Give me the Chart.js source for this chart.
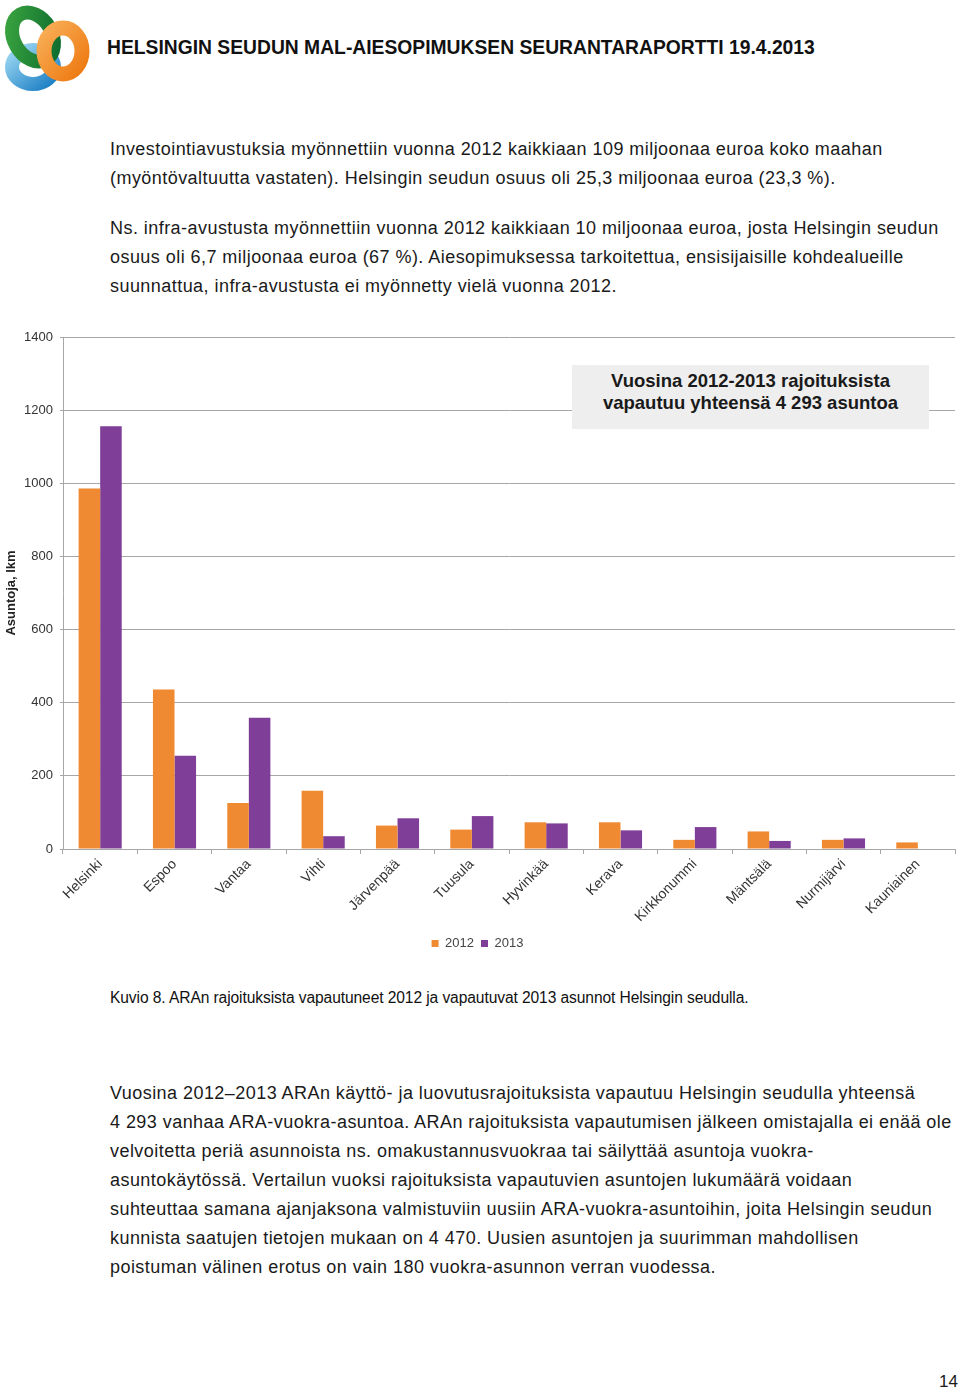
<!DOCTYPE html>
<html lang="fi">
<head>
<meta charset="utf-8">
<title>ARAn rajoituksista vapautuvat asunnot</title>
<script src="https://cdn.jsdelivr.net/npm/chart.js@4/dist/chart.umd.min.js"></script>
<style>
    body { margin: 0; background: #fff; font-family: "Liberation Sans", Arial, sans-serif; color: #1a1a1a; }
    #page { position: relative; width: 960px; height: 1390px; overflow: hidden; }
    .abs { position: absolute; white-space: nowrap; }
    .otsikko { left: 107px; top: 37px; font-size: 19.3px; font-weight: bold; color: #111; letter-spacing: 0; }
    .teksti { font-size: 18px; letter-spacing: 0.45px; line-height: 29px; }
    .kuvateksti { left: 110px; top: 989px; font-size: 15.6px; color: #111; letter-spacing: -0.1px; }
    #laatikko { left: 572px; top: 365px; width: 357px; height: 64px; background: #eeeeee;
        text-align: center; font-size: 18.5px; font-weight: bold; line-height: 22px; color: #1a1a1a;
        padding-top: 5px; box-sizing: border-box; }
    #kaavio { position: absolute; left: 0; top: 320px; width: 960px; height: 640px; }
    .sivu { left: 939px; top: 1372px; font-size: 17px; }
</style>
</head>
<body>
<div id="page">
    <!-- logo -->
    <svg class="abs" style="left:0;top:0" width="100" height="100" viewBox="0 0 100 100">
        <defs>
            <linearGradient id="vihrea" x1="0" y1="0" x2="1" y2="1">
                <stop offset="0" stop-color="#3aa43f"/>
                <stop offset="1" stop-color="#0d6b2e"/>
            </linearGradient>
            <linearGradient id="oranssi" x1="0" y1="0" x2="1" y2="1">
                <stop offset="0" stop-color="#f8ad55"/>
                <stop offset="1" stop-color="#ee7a12"/>
            </linearGradient>
            <linearGradient id="sininen" x1="0" y1="0" x2="1" y2="1">
                <stop offset="0" stop-color="#9ad6f2"/>
                <stop offset="1" stop-color="#1c7fc4"/>
            </linearGradient>
        </defs>
        <ellipse cx="33" cy="67" rx="21" ry="17" fill="none" stroke="url(#sininen)" stroke-width="14"/>
        <ellipse cx="33" cy="37" rx="19" ry="26" fill="none" stroke="url(#vihrea)" stroke-width="14" transform="rotate(-30 33 37)"/>
        <ellipse cx="63" cy="51" rx="19" ry="23" fill="none" stroke="url(#oranssi)" stroke-width="15"/>
    </svg>
    <div class="abs otsikko">HELSINGIN SEUDUN MAL-AIESOPIMUKSEN SEURANTARAPORTTI 19.4.2013</div>

    <div class="abs teksti" style="left:110px;top:135px">Investointiavustuksia myönnettiin vuonna 2012 kaikkiaan 109 miljoonaa euroa koko maahan<br>(myöntövaltuutta vastaten). Helsingin seudun osuus oli 25,3 miljoonaa euroa (23,3 %).</div>
    <div class="abs teksti" style="left:110px;top:214px">Ns. infra-avustusta myönnettiin vuonna 2012 kaikkiaan 10 miljoonaa euroa, josta Helsingin seudun<br>osuus oli 6,7 miljoonaa euroa (67 %). Aiesopimuksessa tarkoitettua, ensisijaisille kohdealueille<br>suunnattua, infra-avustusta ei myönnetty vielä vuonna 2012.</div>

    <div id="kaavio"><canvas id="myChart"></canvas></div>
    <div id="laatikko" class="abs">Vuosina 2012-2013 rajoituksista<br>vapautuu yhteensä 4 293 asuntoa</div>

    <div class="abs kuvateksti">Kuvio 8. ARAn rajoituksista vapautuneet 2012 ja vapautuvat 2013 asunnot Helsingin seudulla.</div>

    <div class="abs teksti" style="left:110px;top:1079px">Vuosina 2012–2013 ARAn käyttö- ja luovutusrajoituksista vapautuu Helsingin seudulla yhteensä<br>4 293 vanhaa ARA-vuokra-asuntoa. ARAn rajoituksista vapautumisen jälkeen omistajalla ei enää ole<br>velvoitetta periä asunnoista ns. omakustannusvuokraa tai säilyttää asuntoja vuokra-<br>asuntokäytössä. Vertailun vuoksi rajoituksista vapautuvien asuntojen lukumäärä voidaan<br>suhteuttaa samana ajanjaksona valmistuviin uusiin ARA-vuokra-asuntoihin, joita Helsingin seudun<br>kunnista saatujen tietojen mukaan on 4 470. Uusien asuntojen ja suurimman mahdollisen<br>poistuman välinen erotus on vain 180 vuokra-asunnon verran vuodessa.</div>

    <div class="abs sivu">14</div>
</div>

<script>
    // Kunnat ja vapautuvien asuntojen määrät (luettu kuvasta)
    const kunnat = ['Helsinki', 'Espoo', 'Vantaa', 'Vihti', 'Järvenpää', 'Tuusula', 'Hyvinkää', 'Kerava', 'Kirkkonummi', 'Mäntsälä', 'Nurmijärvi', 'Kauniainen'];
    const vuosi2012 = [986, 436, 126, 159, 64, 53, 73, 73, 25, 48, 25, 18];
    const vuosi2013 = [1156, 255, 359, 35, 84, 90, 70, 51, 60, 22, 29, 0];
    const sarjaNimet = ['2012', '2013'];
    const yMin = 0;
    const yMax = 1400;
    const yAskel = 200;

    const harmaa = '#a6a6a6';
    const fontti = 'Liberation Sans, Arial, sans-serif';

    var ctx = document.getElementById('myChart');
    var myChart = new Chart(ctx, {
        type: 'bar',
        data: {
            labels: kunnat,
            datasets: [{
                label: sarjaNimet[0],
                data: vuosi2012,
                backgroundColor: '#f08a32'
            }, {
                label: sarjaNimet[1],
                data: vuosi2013,
                backgroundColor: '#7f3f98'
            }]
        },
        options: {
            responsive: true,
            maintainAspectRatio: false,
            animation: false,
            layout: {
                padding: { top: 17, right: 5, left: 0, bottom: 0 }
            },
            datasets: {
                bar: {
                    categoryPercentage: 0.58,
                    barPercentage: 1.0
                }
            },
            scales: {
                x: {
                    grid: {
                        drawOnChartArea: false,
                        drawTicks: true,
                        tickLength: 5,
                        color: harmaa
                    },
                    border: { color: harmaa },
                    ticks: {
                        minRotation: 45,
                        maxRotation: 45,
                        padding: 2,
                        color: '#333',
                        font: { family: fontti, size: 14 }
                    },
                    afterFit: function (scale) { scale.height = 81; }
                },
                y: {
                    min: yMin,
                    max: yMax,
                    ticks: {
                        stepSize: yAskel,
                        padding: 7,
                        color: '#333',
                        font: { family: fontti, size: 13 },
                        callback: function (value) { return String(value); } // ei tuhaterotinta
                    },
                    grid: {
                        color: harmaa,
                        tickLength: 3
                    },
                    border: { color: harmaa },
                    title: {
                        display: true,
                        text: 'Asuntoja, lkm',
                        color: '#222',
                        font: { family: fontti, size: 13, weight: 'bold' },
                        padding: { top: 4, bottom: 0 }
                    },
                    afterFit: function (scale) { scale.width = 63; }
                }
            },
            plugins: {
                legend: {
                    position: 'bottom',
                    labels: {
                        boxWidth: 7,
                        boxHeight: 7,
                        padding: 7,
                        color: '#444',
                        font: { family: fontti, size: 13 }
                    }
                },
                tooltip: { enabled: false }
            }
        }
    });
</script>
</body>
</html>
